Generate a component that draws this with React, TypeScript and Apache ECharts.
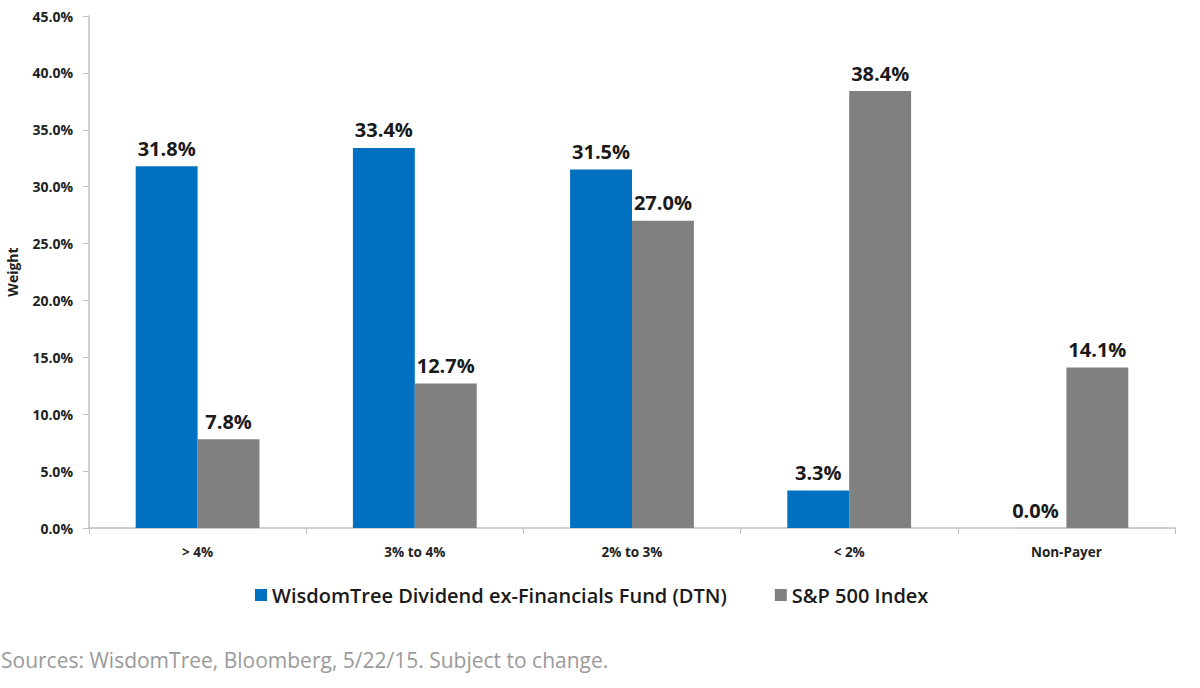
import React, { useEffect, useRef } from "react";
import * as echarts from "echarts";

const categories = ["> 4%", "3% to 4%", "2% to 3%", "< 2%", "Non-Payer"];
const dtnValues = [31.8, 33.4, 31.5, 3.3, 0.0];
const spValues = [7.8, 12.7, 27.0, 38.4, 14.1];
const seriesNames = ["WisdomTree Dividend ex-Financials Fund (DTN)", "S&P 500 Index"];
const sourceText = "Sources: WisdomTree, Bloomberg, 5/22/15. Subject to change.";

const FONT = "'Open Sans', 'Noto Sans', sans-serif";

export default function App() {
  const ref = useRef<HTMLDivElement>(null);
  useEffect(() => {
    document.body.style.margin = "0";
    const chart = echarts.init(ref.current!, null, { renderer: "svg" });
    const label = {
      show: true,
      position: "top",
      distance: 8,
      fontSize: 20,
      fontWeight: "bold",
      color: "#1a1a1a",
      fontFamily: FONT,
      formatter: (p: any) => Number(p.value).toFixed(1) + "%",
    };
    chart.setOption({
      animation: false,
      textStyle: { fontFamily: FONT },
      grid: {
        left: 89,
        right: 25,
        top: 16,
        bottom: 160,
        containLabel: false,
        outerBoundsMode: "none",
      },
      legend: {
        data: seriesNames,
        top: 580,
        left: 250,
        itemWidth: 12,
        itemHeight: 12,
        itemGap: 48,
        icon: "rect",
        textStyle: { fontSize: 20, fontWeight: 600, color: "#1a1a1a", fontFamily: FONT },
      },
      xAxis: {
        type: "category",
        data: categories,
        axisLine: { lineStyle: { color: "#bfbfbf", width: 1.5 } },
        axisTick: { show: true, length: 6, lineStyle: { color: "#bfbfbf" } },
        axisLabel: { fontSize: 13.5, fontWeight: "bold", color: "#222", margin: 17, fontFamily: FONT },
      },
      yAxis: {
        type: "value",
        min: 0,
        max: 45,
        interval: 5,
        name: "Weight",
        nameLocation: "middle",
        nameRotate: 90,
        nameGap: 70,
        nameTextStyle: { fontSize: 14, fontWeight: "bold", color: "#222", fontFamily: FONT },
        axisLine: { show: true, lineStyle: { color: "#bfbfbf", width: 1.5 } },
        axisTick: { show: true, length: 6, lineStyle: { color: "#bfbfbf" } },
        splitLine: { show: false },
        axisLabel: {
          fontSize: 14,
          fontWeight: "bold",
          color: "#222",
          margin: 16,
          fontFamily: FONT,
          formatter: (v: number) => v.toFixed(1) + "%",
        },
      },
      series: [
        {
          name: seriesNames[0],
          type: "bar",
          data: dtnValues,
          barGap: "0%",
          barCategoryGap: "43%",
          itemStyle: { color: "#0070C0" },
          label,
        },
        {
          name: seriesNames[1],
          type: "bar",
          data: spValues,
          barGap: "0%",
          barCategoryGap: "43%",
          itemStyle: { color: "#808080" },
          label,
        },
      ],
      graphic: [
        {
          type: "text",
          left: 1,
          top: 649,
          style: { text: sourceText, fontSize: 21, fill: "#9a9a9a", fontFamily: FONT },
        },
      ],
    });
    return () => chart.dispose();
  }, []);
  return <div ref={ref} style={{ width: 1200, height: 688 }} />;
}
